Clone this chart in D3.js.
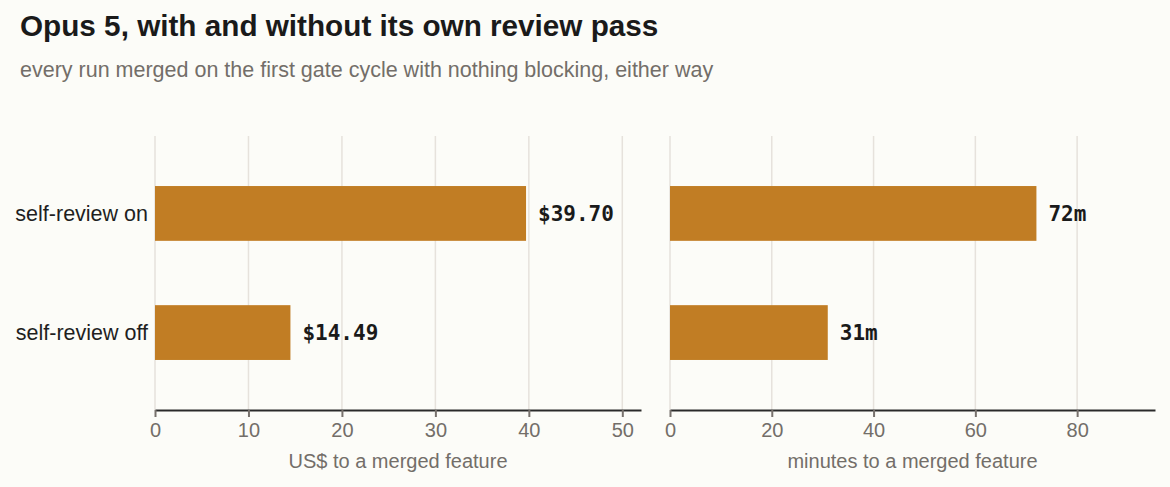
<!DOCTYPE html>
<html>
<head>
<meta charset="utf-8">
<script src="https://cdn.jsdelivr.net/npm/d3@7.9.0/dist/d3.min.js"></script>
<style>
  html, body { margin: 0; padding: 0; background: #fcfcf8; }
  svg { display: block; font-family: "Liberation Sans", Arial, sans-serif; }
</style>
</head>
<body>
<svg id="chart" width="1170" height="487"></svg>
<script>
// Data
const categories = ['self-review on', 'self-review off'];
const costValues = [39.70, 14.49];
const minuteValues = [72, 31];
const costTicks = [0, 10, 20, 30, 40, 50];
const minuteTicks = [0, 20, 40, 60, 80];

const svg = d3.select('#chart');
const barColor = '#c17d24';

svg.append('text')
  .attr('x', 20).attr('y', 36)
  .attr('font-size', 29.7).attr('font-weight', 700)
  .attr('fill', '#1a1a1a')
  .text('Opus 5, with and without its own review pass');

svg.append('text')
  .attr('x', 20).attr('y', 77)
  .attr('font-size', 21.5)
  .attr('fill', '#736e69')
  .text('every run merged on the first gate cycle with nothing blocking, either way');

const y = d3.scaleBand()
  .domain(categories)
  .range([136, 410])
  .paddingInner(0.54)
  .paddingOuter(0.42);

// category labels
svg.append('g')
  .selectAll('text')
  .data(categories)
  .join('text')
  .attr('x', 148)
  .attr('y', d => y(d) + y.bandwidth() / 2)
  .attr('dy', '0.35em')
  .attr('text-anchor', 'end')
  .attr('font-size', 21.5)
  .attr('fill', '#1f1f1f')
  .text(d => d);

function panel(x0, x1, domain, ticks, values, fmt, title) {
  const x = d3.scaleLinear().domain(domain).range([x0, x1]);
  const g = svg.append('g');

  // grid lines
  g.selectAll('line.grid')
    .data(ticks)
    .join('line')
    .attr('class', 'grid')
    .attr('x1', d => x(d)).attr('x2', d => x(d))
    .attr('y1', 136).attr('y2', 410)
    .attr('stroke', '#e6e2dc')
    .attr('stroke-width', 1.5);

  // bars
  g.selectAll('rect')
    .data(values)
    .join('rect')
    .attr('x', x(0))
    .attr('y', (d, i) => y(categories[i]))
    .attr('width', d => x(d) - x(0))
    .attr('height', y.bandwidth())
    .attr('fill', barColor);

  // value labels
  g.selectAll('text.val')
    .data(values)
    .join('text')
    .attr('class', 'val')
    .attr('x', d => x(d) + 12)
    .attr('y', (d, i) => y(categories[i]) + y.bandwidth() / 2)
    .attr('dy', '0.35em')
    .attr('font-family', '"DejaVu Sans Mono", monospace')
    .attr('font-weight', 700)
    .attr('font-size', 21)
    .attr('fill', '#1a1a1a')
    .text(fmt);

  // axis
  const axis = g.append('g')
    .attr('transform', 'translate(0,410)')
    .call(d3.axisBottom(x).tickValues(ticks).tickSize(7).tickSizeOuter(0).tickPadding(6));
  axis.select('.domain').attr('stroke', '#2a2a2a').attr('stroke-width', 2);
  axis.selectAll('.tick line').attr('stroke', '#77716c').attr('stroke-width', 2);
  axis.selectAll('.tick text')
    .attr('font-family', '"Liberation Sans", Arial, sans-serif')
    .attr('font-size', 20)
    .attr('fill', '#736e69');

  g.append('text')
    .attr('x', (x0 + x1) / 2)
    .attr('y', 468)
    .attr('text-anchor', 'middle')
    .attr('font-size', 20)
    .attr('fill', '#736e69')
    .text(title);
}

panel(155, 641, [0, 52], costTicks, costValues, d => '$' + d.toFixed(2), 'US$ to a merged feature');
panel(670, 1155, [0, 95.3], minuteTicks, minuteValues, d => d + 'm', 'minutes to a merged feature');
</script>
</body>
</html>
